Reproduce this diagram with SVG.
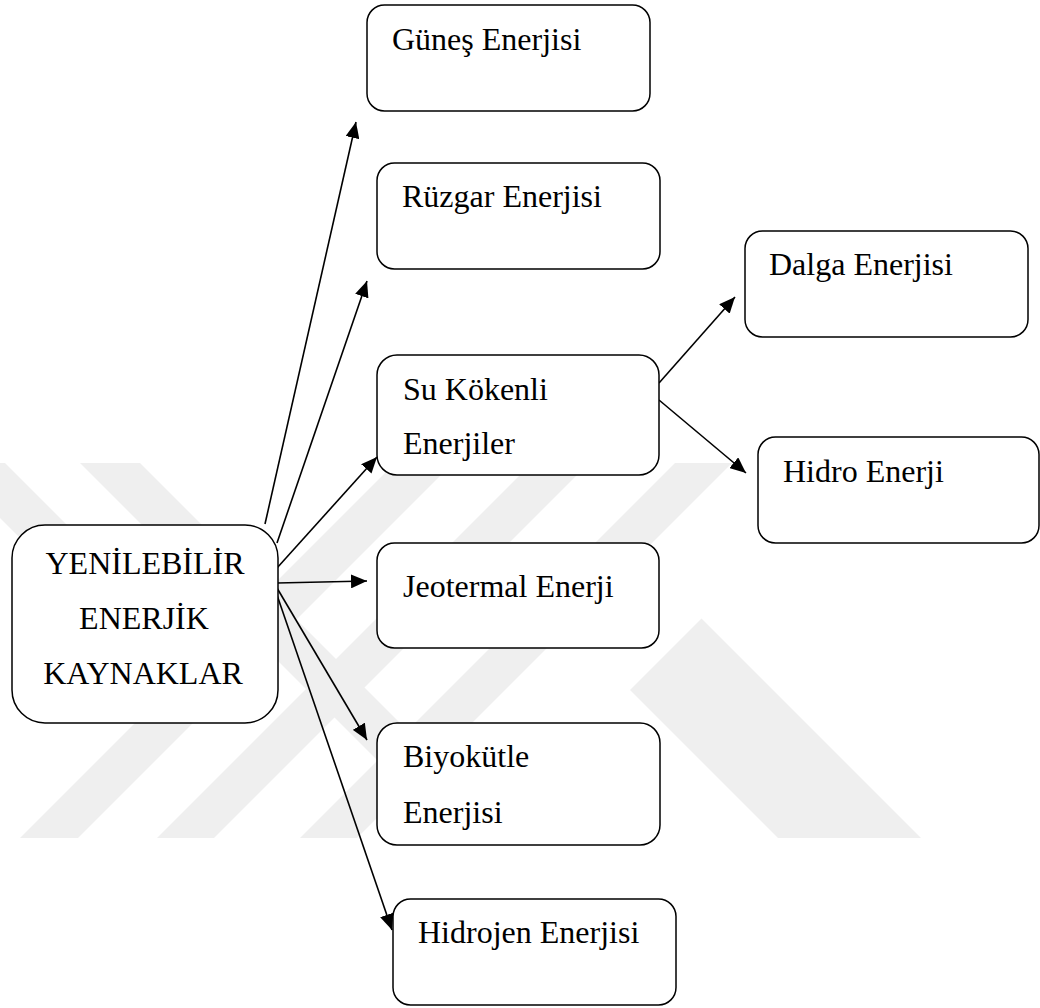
<svg xmlns="http://www.w3.org/2000/svg" width="1040" height="1008" viewBox="0 0 1040 1008">
  <style>
    .box { fill: #ffffff; stroke: #000000; stroke-width: 1.5; }
    .lbl { font-family: "Liberation Serif", "Times New Roman", serif; font-size: 32px; fill: #000000; }
    .mid { text-anchor: middle; }
    .wm { fill: #efefef; }
    .link { stroke: #000000; stroke-width: 1.6; fill: none; marker-end: url(#arrow); }
  </style>
  <defs>
    <marker id="arrow" viewBox="0 0 16 14" refX="16" refY="7" markerWidth="16" markerHeight="14" orient="auto" markerUnits="userSpaceOnUse">
      <path d="M0,0 L16,7 L0,14 Z" fill="#000000"/>
    </marker>
    <clipPath id="wmClip">
      <rect x="0" y="463" width="1040" height="375"/>
    </clipPath>
  </defs>

  <rect x="0" y="0" width="1040" height="1008" fill="#ffffff"/>

  <!-- background emblem: diagonal stripes -->
  <g id="emblem" clip-path="url(#wmClip)">
    <polygon class="wm" points="-55,463 5,463 200,658 170,688"/>
    <polygon class="wm" points="80,463 140,463 515,838 455,838"/>
    <polygon class="wm" points="20,838 78,838 453,463 395,463"/>
    <polygon class="wm" points="157,838 214,838 589,463 532,463"/>
    <polygon class="wm" points="300,838 357,838 732,463 675,463"/>
    <polygon class="wm" points="630,690 701.5,618.5 921,838 778,838"/>
  </g>

  <!-- connectors -->
  <g id="connectors">
    <line class="link" x1="265" y1="524" x2="356" y2="122"/>
    <line class="link" x1="277" y1="543" x2="367" y2="281"/>
    <line class="link" x1="277" y1="568" x2="377" y2="457"/>
    <line class="link" x1="277" y1="583" x2="367" y2="581"/>
    <line class="link" x1="277" y1="588" x2="367" y2="740"/>
    <line class="link" x1="277" y1="595" x2="392" y2="930"/>
    <line class="link" x1="659" y1="383" x2="735" y2="297"/>
    <line class="link" x1="659" y1="400" x2="746" y2="473"/>
  </g>

  <!-- nodes -->
  <g id="node-main">
    <rect class="box" x="12" y="525" width="266" height="198" rx="33" ry="33"/>
    <text class="lbl mid" x="145" y="574">YENİLEBİLİR</text>
    <text class="lbl mid" x="144" y="629">ENERJİK</text>
    <text class="lbl mid" x="143" y="684">KAYNAKLAR</text>
  </g>
  <g id="node-gunes">
    <rect class="box" x="367" y="5" width="283" height="106" rx="17.5" ry="17.5"/>
    <text class="lbl" x="392" y="50">Güneş Enerjisi</text>
  </g>
  <g id="node-ruzgar">
    <rect class="box" x="377" y="163" width="283" height="106" rx="17.5" ry="17.5"/>
    <text class="lbl" x="402" y="207">Rüzgar Enerjisi</text>
  </g>
  <g id="node-su">
    <rect class="box" x="377" y="355" width="282" height="120" rx="20" ry="20"/>
    <text class="lbl" x="403" y="400">Su Kökenli</text>
    <text class="lbl" x="403" y="454">Enerjiler</text>
  </g>
  <g id="node-jeotermal">
    <rect class="box" x="377" y="543" width="282" height="105" rx="17.5" ry="17.5"/>
    <text class="lbl" x="403" y="597">Jeotermal Enerji</text>
  </g>
  <g id="node-biyokutle">
    <rect class="box" x="377" y="723" width="283" height="122" rx="20" ry="20"/>
    <text class="lbl" x="403" y="767">Biyokütle</text>
    <text class="lbl" x="403" y="823">Enerjisi</text>
  </g>
  <g id="node-hidrojen">
    <rect class="box" x="393" y="899" width="283" height="106" rx="17.5" ry="17.5"/>
    <text class="lbl" x="418" y="943">Hidrojen Enerjisi</text>
  </g>
  <g id="node-dalga">
    <rect class="box" x="745" y="231" width="283" height="106" rx="17.5" ry="17.5"/>
    <text class="lbl" x="769" y="275">Dalga Enerjisi</text>
  </g>
  <g id="node-hidro">
    <rect class="box" x="758" y="437" width="281" height="106" rx="17.5" ry="17.5"/>
    <text class="lbl" x="783" y="482">Hidro Enerji</text>
  </g>
</svg>
